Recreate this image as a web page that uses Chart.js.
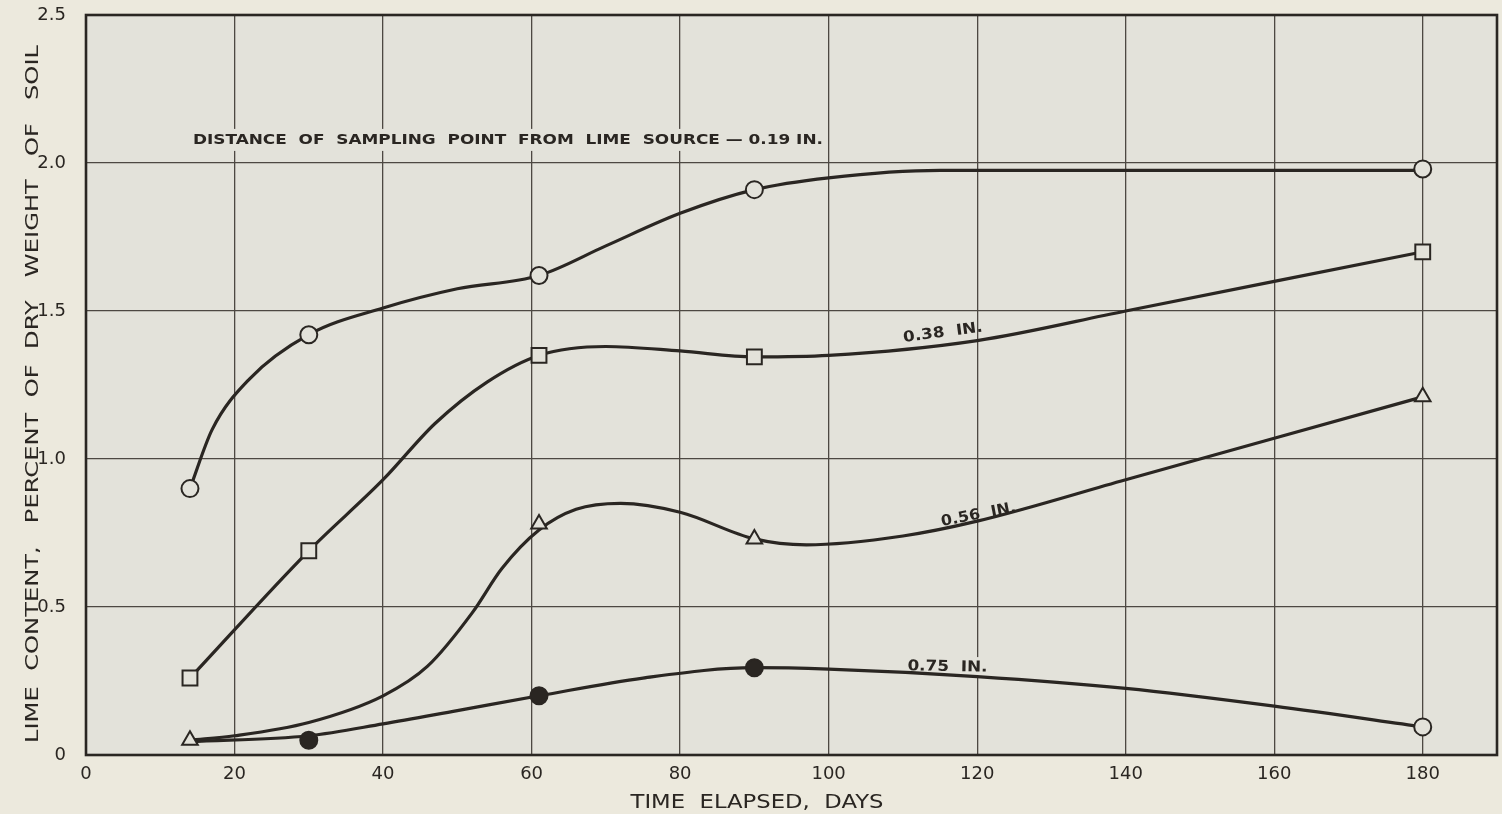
<!DOCTYPE html>
<html>
<head>
<meta charset="utf-8">
<script src="https://cdn.jsdelivr.net/npm/chart.js@4/dist/chart.umd.min.js"></script>
<style>
  html, body { margin: 0; padding: 0; background: #ece9dd; overflow: hidden; }
  #wrap { width: 1502px; height: 814px; }
  canvas { display: block; }
</style>
</head>
<body>
<div id="wrap"><canvas id="c" width="1502" height="814"></canvas></div>
<script>
// ---- Data ----
// Measured points (markers)
const days019 = [14, 30, 61, 90, 180];
const lime019 = [0.90, 1.42, 1.62, 1.91, 1.98];
const days038 = [14, 30, 61, 90, 180];
const lime038 = [0.26, 0.69, 1.35, 1.345, 1.70];
const days056 = [14, 61, 90, 180];
const lime056 = [0.05, 0.78, 0.73, 1.21];
const days075 = [30, 61, 90, 180];
const lime075 = [0.05, 0.20, 0.295, 0.095];

// Hand-drawn smooth curves
const curveDays019 = [14, 17, 22, 30, 40, 50, 61, 70, 80, 90, 100, 115, 180];
const curveLime019 = [0.90, 1.10, 1.27, 1.42, 1.51, 1.575, 1.62, 1.72, 1.83, 1.91, 1.95, 1.975, 1.975];
const curveDays038 = [14, 30, 40, 47, 54, 61, 70, 80, 90, 100, 120, 140, 160, 180];
const curveLime038 = [0.26, 0.69, 0.93, 1.12, 1.26, 1.35, 1.38, 1.365, 1.345, 1.35, 1.40, 1.50, 1.60, 1.70];
const curveDays056 = [14, 20, 30, 40, 46, 52, 56, 61, 66, 72, 80, 90, 97, 110, 120, 140, 160, 180];
const curveLime056 = [0.05, 0.065, 0.11, 0.20, 0.30, 0.48, 0.63, 0.76, 0.83, 0.85, 0.82, 0.73, 0.71, 0.74, 0.79, 0.93, 1.07, 1.21];
const curveDays075 = [14, 30, 40, 50, 61, 75, 90, 100, 120, 140, 160, 180];
const curveLime075 = [0.045, 0.065, 0.105, 0.15, 0.20, 0.26, 0.295, 0.29, 0.265, 0.225, 0.165, 0.095];

// Axis ticks
const xTicks = [0, 20, 40, 60, 80, 100, 120, 140, 160, 180];
const yTicks = [0, 0.5, 1.0, 1.5, 2.0, 2.5];

// Texts
const curveLabels = [
  { text: 'DISTANCE  OF  SAMPLING  POINT  FROM  LIME  SOURCE — 0.19 IN.', x: 14.4, y: 2.078 },
  { text: '0.38  IN.', x: 115.4, y: 1.426 },
  { text: '0.56  IN.', x: 120.2, y: 0.811 },
  { text: '0.75  IN.', x: 116, y: 0.297 }
];
const xTitle = 'TIME  ELAPSED,  DAYS';
const yTitle = 'LIME  CONTENT,   PERCENT  OF  DRY   WEIGHT   OF   SOIL';

// ---- Styles ----
const INK = '#2a2622';
const GRID = '#4d4842';
const PLOT_BG = '#e3e2da';
const FONT = '"DejaVu Sans", "Liberation Sans", sans-serif';

const pts = (xs, ys) => xs.map((x, i) => ({ x: x, y: ys[i] }));

function markerSet(xs, ys, style, fills) {
  return {
    data: pts(xs, ys), showLine: false, order: 0,
    pointStyle: style,
    pointRadius: style === 'rect' ? 10.5 : (style === 'triangle' ? 9 : 8.5),
    pointBorderWidth: 2,
    pointBorderColor: INK,
    pointBackgroundColor: fills,
    borderColor: INK
  };
}
function curveSet(xs, ys) {
  return {
    data: pts(xs, ys), showLine: true, order: 1,
    borderColor: INK, borderWidth: 3.2, pointRadius: 0,
    cubicInterpolationMode: 'monotone', fill: false
  };
}

// text drawn to fit a target width (letter-spaced lettering)
function fittedText(ctx, text, x, y, width, font, angle, align) {
  ctx.save();
  ctx.font = font;
  const w = ctx.measureText(text).width;
  ctx.translate(x, y);
  ctx.rotate(angle || 0);
  ctx.scale(width / w, 1);
  ctx.textAlign = align || 'center';
  ctx.textBaseline = 'middle';
  ctx.fillStyle = INK;
  ctx.fillText(text, 0, 0);
  ctx.restore();
}

const labelSpecs = [
  { w: 630, font: 'bold 14px ' + FONT, angle: 0, align: 'left', bgH: 22 },
  { w: 80, font: 'bold 15px ' + FONT, angle: -7.5 * Math.PI / 180, align: 'center', bgH: 0 },
  { w: 76, font: 'bold 15px ' + FONT, angle: -11 * Math.PI / 180, align: 'center', bgH: 0 },
  { w: 80, font: 'bold 15px ' + FONT, angle: 1 * Math.PI / 180, align: 'center', bgH: 20 }
];

const decor = {
  id: 'decor',
  beforeDraw(chart) {
    const { ctx, chartArea: a } = chart;
    ctx.save();
    ctx.fillStyle = PLOT_BG;
    ctx.fillRect(a.left, a.top, a.right - a.left, a.bottom - a.top);
    ctx.restore();
  },
  beforeDatasetsDraw(chart) {
    const { ctx } = chart;
    const xs = chart.scales.x, ys = chart.scales.y;
    curveLabels.forEach((l, i) => {
      const s = labelSpecs[i];
      const px = xs.getPixelForValue(l.x), py = ys.getPixelForValue(l.y);
      if (s.bgH) {
        ctx.save();
        ctx.fillStyle = PLOT_BG;
        const left = s.align === 'left' ? px - 4 : px - s.w / 2 - 4;
        ctx.fillRect(left, py - s.bgH / 2, s.w + 8, s.bgH);
        ctx.restore();
      }
      fittedText(ctx, l.text, px, py, s.w, s.font, s.angle, s.align);
    });
  },
  afterDraw(chart) {
    const { ctx, chartArea: a } = chart;
    ctx.save();
    ctx.strokeStyle = INK;
    ctx.lineWidth = 2.6;
    ctx.strokeRect(a.left, a.top, a.right - a.left, a.bottom - a.top);
    ctx.restore();
    // axis titles
    fittedText(ctx, xTitle, 757, 803, 253, '19px ' + FONT, 0, 'center');
    fittedText(ctx, yTitle, 33, 394, 698, '18px ' + FONT, -Math.PI / 2, 'center');
  }
};

function noPad(s) { s.paddingTop = 0; s.paddingBottom = 0; s.paddingLeft = 0; s.paddingRight = 0; }

new Chart(document.getElementById('c'), {
  type: 'line',
  data: {
    datasets: [
      markerSet(days019, lime019, 'circle', PLOT_BG),
      markerSet(days038, lime038, 'rect', PLOT_BG),
      markerSet(days056, lime056, 'triangle', PLOT_BG),
      markerSet(days075, lime075, 'circle', days075.map((d, i) => i === days075.length - 1 ? PLOT_BG : INK)),
      curveSet(curveDays019, curveLime019),
      curveSet(curveDays038, curveLime038),
      curveSet(curveDays056, curveLime056),
      curveSet(curveDays075, curveLime075)
    ]
  },
  options: {
    responsive: false,
    animation: false,
    clip: false,
    layout: { autoPadding: false, padding: { top: 15, right: 5, left: 0, bottom: 0 } },
    plugins: { legend: { display: false }, tooltip: { enabled: false } },
    scales: {
      x: {
        type: 'linear', min: 0, max: 190,
        afterFit: s => { s.height = 59; noPad(s); },
        afterBuildTicks: s => { s.ticks = xTicks.map(v => ({ value: v })); },
        grid: { color: GRID, lineWidth: 1.3, drawTicks: false },
        border: { display: false },
        ticks: {
          padding: 9, color: INK, maxRotation: 0, autoSkip: false,
          font: { family: FONT, size: 18 },
          callback: v => String(v)
        }
      },
      y: {
        type: 'linear', min: 0, max: 2.5,
        afterFit: s => { s.width = 86; noPad(s); },
        afterBuildTicks: s => { s.ticks = yTicks.map(v => ({ value: v })); },
        grid: { color: GRID, lineWidth: 1.3, drawTicks: false },
        border: { display: false },
        ticks: {
          padding: 20, color: INK, autoSkip: false,
          font: { family: FONT, size: 18 },
          callback: v => (v === 0 ? '0' : Number(v).toFixed(1))
        }
      }
    }
  },
  plugins: [decor]
});
</script>
</body>
</html>
